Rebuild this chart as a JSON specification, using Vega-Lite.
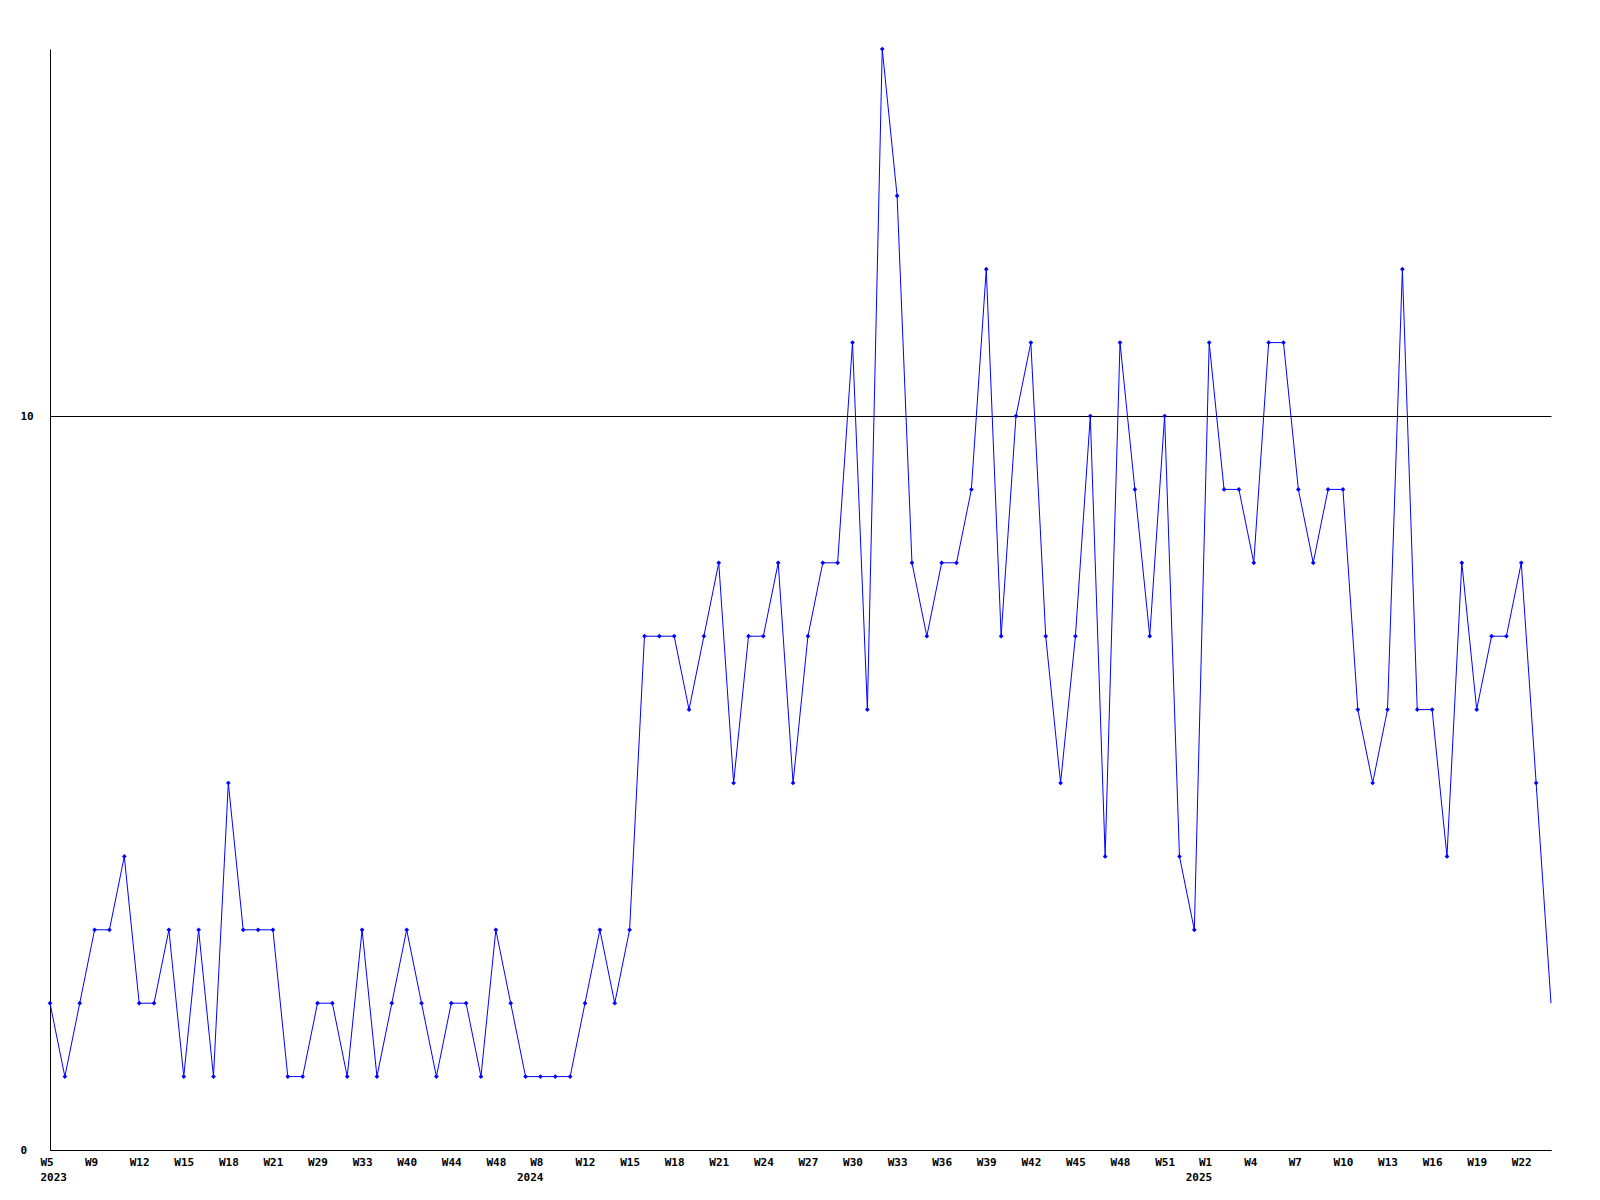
{
  "$schema": "https://vega.github.io/schema/vega-lite/v6.json",
  "usermeta": {"embedOptions": {"actions": false}},
  "width": 1501,
  "height": 1101,
  "autosize": {"type": "none"},
  "padding": {"left": 50, "top": 49, "right": 49, "bottom": 50},
  "background": "white",
  "config": {"view": {"stroke": null}},
  "data": {"values": [
    {"key": "2023 W5", "value": 2},
    {"key": "2023 W6", "value": 1},
    {"key": "2023 W7", "value": 2},
    {"key": "2023 W9", "value": 3},
    {"key": "2023 W10", "value": 3},
    {"key": "2023 W11", "value": 4},
    {"key": "2023 W12", "value": 2},
    {"key": "2023 W13", "value": 2},
    {"key": "2023 W14", "value": 3},
    {"key": "2023 W15", "value": 1},
    {"key": "2023 W16", "value": 3},
    {"key": "2023 W17", "value": 1},
    {"key": "2023 W18", "value": 5},
    {"key": "2023 W19", "value": 3},
    {"key": "2023 W20", "value": 3},
    {"key": "2023 W21", "value": 3},
    {"key": "2023 W24", "value": 1},
    {"key": "2023 W27", "value": 1},
    {"key": "2023 W29", "value": 2},
    {"key": "2023 W30", "value": 2},
    {"key": "2023 W31", "value": 1},
    {"key": "2023 W33", "value": 3},
    {"key": "2023 W36", "value": 1},
    {"key": "2023 W38", "value": 2},
    {"key": "2023 W40", "value": 3},
    {"key": "2023 W41", "value": 2},
    {"key": "2023 W43", "value": 1},
    {"key": "2023 W44", "value": 2},
    {"key": "2023 W45", "value": 2},
    {"key": "2023 W47", "value": 1},
    {"key": "2023 W48", "value": 3},
    {"key": "2023 W50", "value": 2},
    {"key": "2023 W51", "value": 1},
    {"key": "2024 W8", "value": 1},
    {"key": "2024 W10", "value": 1},
    {"key": "2024 W11", "value": 1},
    {"key": "2024 W12", "value": 2},
    {"key": "2024 W13", "value": 3},
    {"key": "2024 W14", "value": 2},
    {"key": "2024 W15", "value": 3},
    {"key": "2024 W16", "value": 7},
    {"key": "2024 W17", "value": 7},
    {"key": "2024 W18", "value": 7},
    {"key": "2024 W19", "value": 6},
    {"key": "2024 W20", "value": 7},
    {"key": "2024 W21", "value": 8},
    {"key": "2024 W22", "value": 5},
    {"key": "2024 W23", "value": 7},
    {"key": "2024 W24", "value": 7},
    {"key": "2024 W25", "value": 8},
    {"key": "2024 W26", "value": 5},
    {"key": "2024 W27", "value": 7},
    {"key": "2024 W28", "value": 8},
    {"key": "2024 W29", "value": 8},
    {"key": "2024 W30", "value": 11},
    {"key": "2024 W31", "value": 6},
    {"key": "2024 W32", "value": 15},
    {"key": "2024 W33", "value": 13},
    {"key": "2024 W34", "value": 8},
    {"key": "2024 W35", "value": 7},
    {"key": "2024 W36", "value": 8},
    {"key": "2024 W37", "value": 8},
    {"key": "2024 W38", "value": 9},
    {"key": "2024 W39", "value": 12},
    {"key": "2024 W40", "value": 7},
    {"key": "2024 W41", "value": 10},
    {"key": "2024 W42", "value": 11},
    {"key": "2024 W43", "value": 7},
    {"key": "2024 W44", "value": 5},
    {"key": "2024 W45", "value": 7},
    {"key": "2024 W46", "value": 10},
    {"key": "2024 W47", "value": 4},
    {"key": "2024 W48", "value": 11},
    {"key": "2024 W49", "value": 9},
    {"key": "2024 W50", "value": 7},
    {"key": "2024 W51", "value": 10},
    {"key": "2024 W52", "value": 4},
    {"key": "2024 W53", "value": 3},
    {"key": "2025 W1", "value": 11},
    {"key": "2025 W2", "value": 9},
    {"key": "2025 W3", "value": 9},
    {"key": "2025 W4", "value": 8},
    {"key": "2025 W5", "value": 11},
    {"key": "2025 W6", "value": 11},
    {"key": "2025 W7", "value": 9},
    {"key": "2025 W8", "value": 8},
    {"key": "2025 W9", "value": 9},
    {"key": "2025 W10", "value": 9},
    {"key": "2025 W11", "value": 6},
    {"key": "2025 W12", "value": 5},
    {"key": "2025 W13", "value": 6},
    {"key": "2025 W14", "value": 12},
    {"key": "2025 W15", "value": 6},
    {"key": "2025 W16", "value": 6},
    {"key": "2025 W17", "value": 4},
    {"key": "2025 W18", "value": 8},
    {"key": "2025 W19", "value": 6},
    {"key": "2025 W20", "value": 7},
    {"key": "2025 W21", "value": 7},
    {"key": "2025 W22", "value": 8},
    {"key": "2025 W23", "value": 5},
    {"key": "2025 W24", "value": 2}
  ]},
  "encoding": {
    "x": {
      "field": "key",
      "type": "ordinal",
      "sort": null,
      "scale": {"type": "point", "padding": 0},
      "axis": {
        "title": null,
        "values": ["2023 W5", "2023 W9", "2023 W12", "2023 W15", "2023 W18", "2023 W21", "2023 W29", "2023 W33", "2023 W40", "2023 W44", "2023 W48", "2024 W8", "2024 W12", "2024 W15", "2024 W18", "2024 W21", "2024 W24", "2024 W27", "2024 W30", "2024 W33", "2024 W36", "2024 W39", "2024 W42", "2024 W45", "2024 W48", "2024 W51", "2025 W1", "2025 W4", "2025 W7", "2025 W10", "2025 W13", "2025 W16", "2025 W19", "2025 W22"],
        "labelExpr": "datum.value == '2023 W5' ? ['W5', '2023'] : datum.value == '2024 W8' ? ['W8', '2024'] : datum.value == '2025 W1' ? ['W1', '2025'] : split(datum.value, ' ')[1]",
        "labelAngle": 0,
        "labelAlign": {"condition": [
          {"test": "datum.value == '2023 W5'", "value": "left"},
          {"test": "datum.value == '2024 W8' || datum.value == '2025 W1'", "value": "right"}
        ], "value": "center"},
        "labelOffset": {"condition": [
          {"test": "datum.value == '2023 W5'", "value": -10},
          {"test": "datum.value == '2024 W8' || datum.value == '2025 W1'", "value": 2.5},
          {"test": "length(split(datum.value, ' ')[1]) == 2", "value": -3.5}
        ], "value": 0},
        "labelBaseline": "top",
        "labelPadding": 6,
        "labelLineHeight": 15,
        "labelFont": "DejaVu Sans Mono",
        "labelFontWeight": "bold",
        "labelFontSize": 11,
        "labelColor": "black",
        "labelOverlap": false,
        "labelBound": false,
        "ticks": false,
        "tickSize": 0,
        "grid": false,
        "domainColor": "black",
        "domainWidth": 1
      }
    },
    "y": {
      "field": "value",
      "type": "quantitative",
      "scale": {"domain": [0, 15], "nice": false, "zero": true},
      "axis": {
        "title": null,
        "values": [0, 10],
        "labelAlign": "left",
        "labelBaseline": "middle",
        "labelPadding": 30,
        "labelFont": "DejaVu Sans Mono",
        "labelFontWeight": "bold",
        "labelFontSize": 11,
        "labelColor": "black",
        "ticks": false,
        "tickSize": 0,
        "grid": true,
        "gridColor": "black",
        "gridOpacity": 1,
        "gridWidth": 1,
        "domainColor": "black",
        "domainWidth": 1
      }
    }
  },
  "layer": [
    {"mark": {"type": "line", "color": "#0000ff", "strokeWidth": 1}},
    {
      "transform": [{"filter": "datum.key != '2025 W24'"}],
      "mark": {"type": "point", "shape": "diamond", "filled": true, "color": "#0000ff", "size": 22, "opacity": 1}
    }
  ]
}
